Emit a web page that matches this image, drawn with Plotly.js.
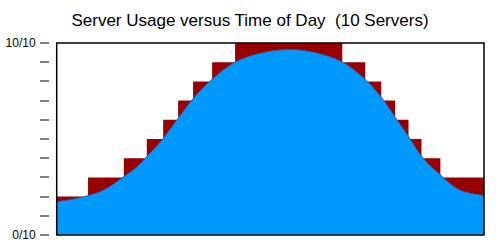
<!DOCTYPE html>
<html>
<head>
<meta charset="utf-8">
<script src="https://cdn.plot.ly/plotly-3.0.1.min.js"></script>
<style>
  html, body { margin: 0; padding: 0; background: #ffffff; }
  #chart { width: 500px; height: 250px; }
</style>
</head>
<body>
<div id="chart"></div>
<script>
// Hour of day at which the number of active servers changes
const stepHours = [0, 1.76, 3.77, 5.06, 5.98, 6.82, 7.66, 8.73, 10.02, 16.04, 17.33, 18.23, 19.01, 19.76, 20.49, 21.55, 24];
// Servers running from each change point onward
const serverCounts = [2, 3, 4, 5, 6, 7, 8, 9, 10, 9, 8, 7, 6, 5, 4, 3, 3];

// Measured load (in server units) over the day
const usageHours = [0, 0.97, 1.72, 2.65, 3.77, 4.52, 5.08, 5.83, 6.82, 7.66, 8.73, 10.02, 11.4, 13.08, 14.49, 16.04, 17.33, 18.23, 19.01, 19.76, 20.49, 21.12, 21.55, 22.06, 22.62, 23.18, 24];
const usageValues = [1.73, 1.88, 2.04, 2.35, 3.04, 3.56, 4.1, 4.86, 6.08, 7.1, 8.11, 9.0, 9.46, 9.66, 9.5, 9.01, 8.1, 7.18, 6.13, 5.13, 4.1, 3.48, 3.13, 2.7, 2.35, 2.18, 2.06];

// Y-axis ticks: one per server, only the ends labelled
const yTickVals = [0, 1, 2, 3, 4, 5, 6, 7, 8, 9, 10];
const yTickText = ['0/10', '', '', '', '', '', '', '', '', '', '10/10'];

const chartTitle = 'Server Usage versus Time of Day \u00a0(10 Servers)';

const traces = [
  {
    x: stepHours,
    y: serverCounts,
    type: 'scatter',
    mode: 'lines',
    line: { shape: 'hv', color: '#990000', width: 0 },
    fill: 'tozeroy',
    fillcolor: '#990000',
    hoverinfo: 'skip'
  },
  {
    x: usageHours,
    y: usageValues,
    type: 'scatter',
    mode: 'lines',
    line: { shape: 'spline', smoothing: 1, color: '#3a5a9a', width: 1 },
    fill: 'tozeroy',
    fillcolor: '#0099ff',
    hoverinfo: 'skip'
  }
];

const layout = {
  width: 500,
  height: 250,
  margin: { l: 49, r: 15.5, t: 42.7, b: 14.7, pad: 0 },
  paper_bgcolor: '#ffffff',
  plot_bgcolor: '#ffffff',
  showlegend: false,
  font: { family: '"Liberation Sans", Arial, sans-serif', color: '#000000', size: 12 },
  title: {
    text: chartTitle,
    font: { family: '"Liberation Sans", Arial, sans-serif', size: 17, color: '#000000' },
    x: 0.5,
    xanchor: 'center',
    xref: 'container',
    y: 0.92,
    yanchor: 'middle'
  },
  xaxis: {
    domain: [0.0177, 1],
    range: [0, 24],
    showgrid: false,
    zeroline: false,
    showline: false,
    showticklabels: false,
    ticks: '',
    fixedrange: true
  },
  yaxis: {
    anchor: 'free',
    position: 0,
    range: [0, 10],
    tickmode: 'array',
    tickvals: yTickVals,
    ticktext: yTickText,
    ticks: 'outside',
    ticklen: 9,
    tickwidth: 2,
    tickcolor: '#808080',
    ticklabelstandoff: 2,
    tickfont: { size: 12, color: '#000000' },
    showgrid: false,
    zeroline: false,
    showline: false,
    fixedrange: true
  },
  shapes: [
    {
      type: 'rect',
      xref: 'x domain',
      yref: 'y domain',
      x0: 0, x1: 1, y0: 0, y1: 1,
      line: { color: '#000000', width: 1.5 },
      fillcolor: 'rgba(0,0,0,0)',
      layer: 'above'
    }
  ]
};

Plotly.newPlot('chart', traces, layout, { staticPlot: true, displayModeBar: false });
</script>
</body>
</html>
